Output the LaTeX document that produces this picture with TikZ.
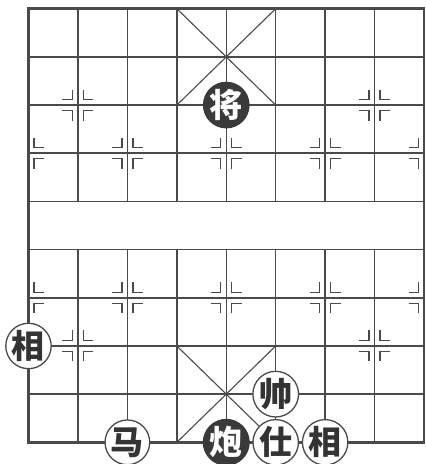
\documentclass[tikz,border=0pt]{standalone}
\usepackage{fontspec}
\newfontfamily\cjk{Noto Sans CJK SC}
\definecolor{ink}{HTML}{4A4A4A}
\definecolor{blackpiece}{HTML}{3A3A3A}
\definecolor{txt}{HTML}{333333}
\tikzset{
  gridline/.style={draw=ink, line width=1.5pt},
  frameline/.style={draw=ink, line width=2.8pt},
  markline/.style={draw=ink, line width=1.3pt},
  redpiece/.style={circle, draw=ink, line width=1.3pt, fill=white, minimum size=44pt, inner sep=0pt, text=txt, font=\cjk\bfseries\fontsize{33}{33}\selectfont},
  blkpiece/.style={circle, draw=blackpiece, line width=1.3pt, fill=blackpiece, minimum size=44pt, inner sep=0pt, text=white, font=\cjk\bfseries\fontsize{33}{33}\selectfont}
}
\newcommand\mkleft[2]{%
  \draw[markline] ([shift={(-15.5pt,5.5pt)}]#1,#2) -| ([shift={(-5.5pt,15.5pt)}]#1,#2);
  \draw[markline] ([shift={(-15.5pt,-5.5pt)}]#1,#2) -| ([shift={(-5.5pt,-15.5pt)}]#1,#2);}
\newcommand\mkright[2]{%
  \draw[markline] ([shift={(15.5pt,5.5pt)}]#1,#2) -| ([shift={(5.5pt,15.5pt)}]#1,#2);
  \draw[markline] ([shift={(15.5pt,-5.5pt)}]#1,#2) -| ([shift={(5.5pt,-15.5pt)}]#1,#2);}
\begin{document}
\begin{tikzpicture}[x=1pt,y=-1pt]
\useasboundingbox (0,0) rectangle (426,464);
\begin{scope}[shift={(28.5,8.7)}, x=49.44pt, y=-48.18pt]
  % horizontal lines
  \foreach \j in {1,2,3,4,5,6,7,8} \draw[gridline] (0,\j) -- (8,\j);
  % vertical lines
  \foreach \i in {1,...,7} {
    \draw[gridline] (\i,0) -- (\i,4);
    \draw[gridline] (\i,5) -- (\i,9);
  }
  % palaces
  \draw[gridline, line width=1.1pt] (3,0) -- (5,2) (5,0) -- (3,2);
  \draw[gridline, line width=1.1pt] (3,7) -- (5,9) (5,7) -- (3,9);
  % frame
  \draw[frameline] (0,0) rectangle (8,9);
  % markers
  \foreach \a/\b in {1/2,7/2,2/3,4/3,6/3,2/6,4/6,6/6,1/7,7/7} {
    \mkleft{\a}{\b} \mkright{\a}{\b}
  }
  \foreach \b in {3,6} { \mkright{0}{\b} \mkleft{8}{\b} }
  % pieces
  \node[blkpiece] (jiang) at (4,2) {将};
  \node[redpiece] (xiangL) at (0,7) {相};
  \node[redpiece] (ma) at (2,9) {马};
  \node[blkpiece] (pao) at (4,9) {炮};
  \node[redpiece] (shi) at (5,9) {仕};
  \node[redpiece] (xiangR) at (6,9) {相};
  \node[redpiece] (shuai) at (5,8) {帅};
\end{scope}
\end{tikzpicture}
\end{document}
